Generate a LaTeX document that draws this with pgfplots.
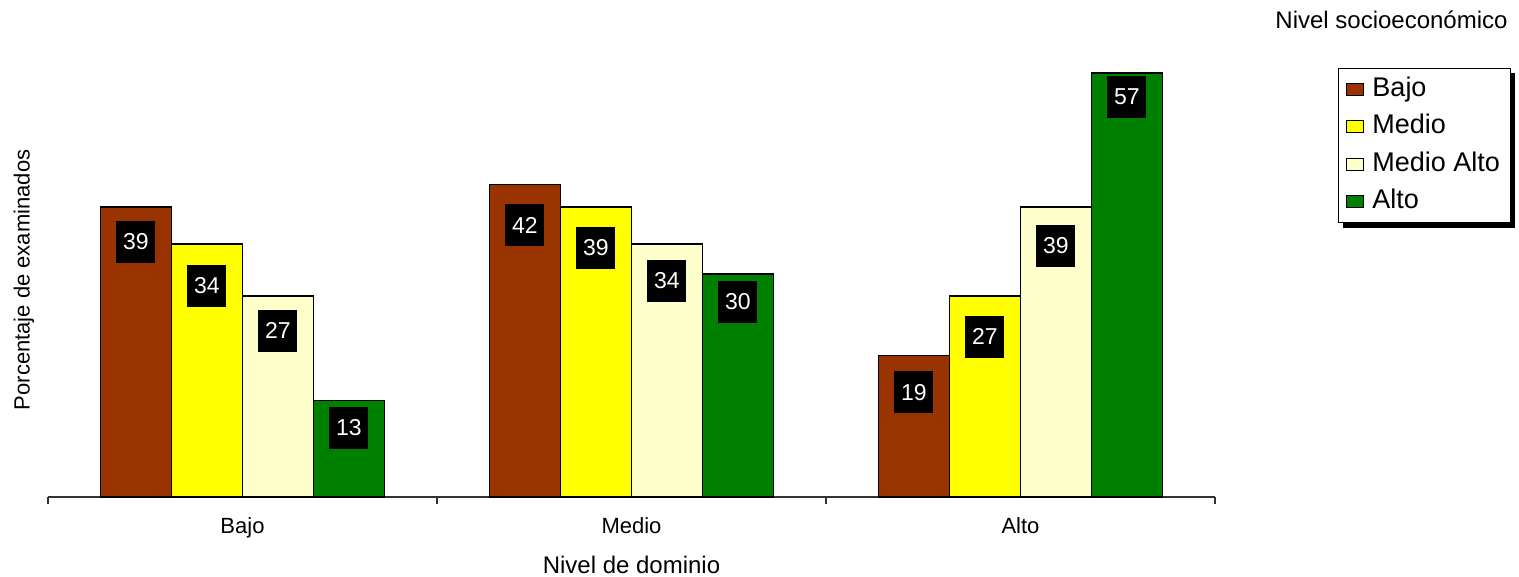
\documentclass[border=0pt]{standalone}
\usepackage{fontspec}
\setmainfont{Liberation Sans}
\usepackage{pgfplots}
\pgfplotsset{compat=1.18}
\usepackage{pgfplotstable}
\usetikzlibrary{shadows}
\definecolor{cBajo}{HTML}{993300}
\definecolor{cMedio}{HTML}{FFFF00}
\definecolor{cMA}{HTML}{FFFFCC}
\definecolor{cAlto}{HTML}{008000}
\newcommand{\fs}[1]{\fontsize{#1}{#1}\selectfont}
\makeatletter
\tikzset{no preactions/.code={\let\tikz@preactions=\pgfutil@empty}}
\makeatother

\pgfplotstableread{
x y off
0 39 13
1 42 19
2 19 15
}\tBajo
\pgfplotstableread{
x y off
0 34 20
1 39 19
2 27 19
}\tMedio
\pgfplotstableread{
x y off
0 27 13
1 34 15
2 39 17
}\tMA
\pgfplotstableread{
x y off
0 13 6
1 30 6
2 57 2
}\tAlto

\begin{document}
\begin{tikzpicture}
\path[use as bounding box] (-48pt,-80pt) rectangle (1471pt,497pt);
\begin{axis}[
 at={(0pt,0pt)}, anchor=south west,
 scale only axis, width=1167pt, height=424pt,
 xmin=-0.5, xmax=2.5, ymin=0, ymax=57,
 ybar=0pt, bar width=71pt,
 clip=false,
 /pgf/number format/assume math mode=true,
 axis x line=bottom, axis y line=left,
 y axis line style={draw=none},
 x axis line style={-, line width=1.2pt, black!80},
 ytick=\empty,
 xtick={0,1,2}, xticklabels={Bajo,Medio,Alto},
 minor xtick={-0.5,0.5,1.5,2.5},
 major tick length=0pt, minor tick length=7pt,
 tick align=outside,
 minor tick style={line width=1.2pt, black!80},
 xticklabel style={font=\fs{22pt}, yshift=-17pt},
 xlabel={Nivel de dominio},
 xlabel style={font=\fs{24pt}, at={(axis description cs:0.5,-0.16)}, anchor=center},
 ylabel={Porcentaje de examinados},
 ylabel style={font=\fs{22pt}, at={(axis description cs:-0.0206,0.512)}, anchor=center},
 every axis plot/.append style={draw=black, line width=1.5pt},
 nodes near coords,
 visualization depends on={\thisrow{off} \as \off},
 every node near coord/.append style={anchor=north, yshift=-\off pt, draw=none, fill=black, text=white, font=\fs{23pt}, minimum width=39pt, minimum height=42pt, inner sep=0pt},
 legend style={at={(1.1054,1.0118)}, anchor=north west, draw=black, line width=1pt, fill=white,
   drop shadow={shadow xshift=5pt, shadow yshift=-5pt, fill=black, opacity=1},
   font=\fs{27pt}, inner xsep=8pt, inner ysep=6pt, row sep=7.5pt, column sep=6pt,
   nodes={inner sep=2pt, text height=20pt, text depth=6pt}},
 legend cell align=left,
 legend image code/.code={\draw[#1, no preactions, draw=black, line width=1pt] (0pt,-6pt) rectangle (17pt,6pt);},
]
\addplot[fill=cBajo] table[x=x,y=y] {\tBajo};
\addplot[fill=cMedio] table[x=x,y=y] {\tMedio};
\addplot[fill=cMA] table[x=x,y=y] {\tMA};
\addplot[fill=cAlto] table[x=x,y=y] {\tAlto};
\legend{Bajo,Medio,Medio Alto,Alto}
\node[anchor=west, font=\fs{24pt}] at (axis description cs:1.0488,1.125) {Nivel socioeconómico};
\end{axis}
\end{tikzpicture}
\end{document}
